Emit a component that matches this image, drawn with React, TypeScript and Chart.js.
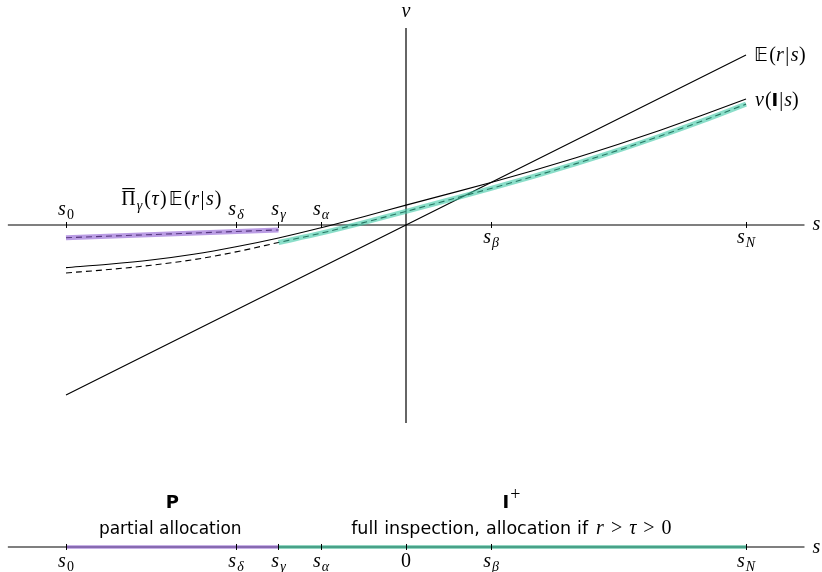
import React, { useEffect, useRef } from "react";
import { Chart, registerables } from "chart.js";
Chart.register(...registerables);

// ---- data -----------------------------------------------------------
// named signal positions (s axis)
const TICK_NAMES = ["0", "δ", "γ", "α", "β", "N"];
const TICK_S = [-1, -0.5, -0.375, -0.25, 0.25, 1];
const TICK_ABOVE = [true, true, true, true, false, false];
// bottom strip ticks (includes the origin "0")
const STRIP_NAMES = ["0", "δ", "γ", "α", "", "β", "N"];
const STRIP_S = [-1, -0.5, -0.375, -0.25, 0, 0.25, 1];

// curves sampled along s
const S_GRID = [-1, -0.875, -0.75, -0.625, -0.5, -0.375, -0.25, -0.125, 0, 0.125, 0.25, 0.375, 0.5, 0.625, 0.75, 0.875, 1];
const V_SOLID = [-0.251, -0.231, -0.206, -0.172, -0.128, -0.076, -0.016, 0.049, 0.117, 0.183, 0.25, 0.321, 0.396, 0.475, 0.559, 0.648, 0.741];
const V_DASHED = [-0.282, -0.262, -0.237, -0.204, -0.158, -0.103, -0.048, 0.014, 0.08, 0.147, 0.215, 0.286, 0.361, 0.44, 0.525, 0.615, 0.711];
const E_S = [-1, 1];
const E_V = [-1, 1];
const PI_S = [-1, -0.375];
const PI_V = [-0.075, -0.029];
const S_GAMMA = -0.375;

// axes extents / view
const AXIS_S = [-1.171, 1.172];
const AXIS_V = [-1.165, 1.159];
const STRIP_V = -1.894;
const VIEW_S = [-1.1941, 1.2235];
const VIEW_V = [-2.0412, 1.3235];

// ---- styling --------------------------------------------------------
const PURPLE = "rgba(140,90,210,0.6)";
const TEAL = "rgba(60,200,165,0.6)";
const PURPLE_STRIP = "rgba(140,95,205,0.65)";
const TEAL_STRIP = "rgba(50,175,140,0.7)";
const SERIF = "'Liberation Serif'";
const MI = `italic 20px ${SERIF}`;
const MR = `20px ${SERIF}`;
const SI = `italic 14px ${SERIF}`;
const SR = `14px ${SERIF}`;
const BB = "19px 'DejaVu Sans'";
const SANS = "17px 'DejaVu Sans'";
const SANS_R = "17.5px 'DejaVu Sans'";
const SANS_B = "bold 18px 'DejaVu Sans'";

type Seg = { t: string; f: string; dy?: number; over?: boolean; dx?: number; gap?: number };

function segWidth(ctx: CanvasRenderingContext2D, s: Seg) {
  ctx.font = s.f;
  const spaces = s.gap ? (s.t.match(/ /g) || []).length : 0;
  return ctx.measureText(s.t).width + (s.dx || 0) + spaces * (s.gap || 0);
}

function drawRich(ctx: CanvasRenderingContext2D, segs: Seg[], x: number, y: number, align: "left" | "center") {
  let w = 0;
  for (const s of segs) w += segWidth(ctx, s);
  let cx = align === "center" ? x - w / 2 : x;
  ctx.textAlign = "left";
  ctx.textBaseline = "alphabetic";
  for (const s of segs) {
    ctx.font = s.f;
    cx += s.dx || 0;
    const yy = y + (s.dy || 0);
    if (s.gap) {
      const words = s.t.split(" ");
      const sp = ctx.measureText(" ").width + s.gap;
      words.forEach((wd, i) => {
        ctx.fillText(wd, cx, yy);
        cx += ctx.measureText(wd).width;
        if (i < words.length - 1) cx += sp;
      });
    } else {
      ctx.fillText(s.t, cx, yy);
      const sw = ctx.measureText(s.t).width;
      if (s.over) ctx.fillRect(cx + 1, y - 17, sw - 2, 1.2);
      cx += sw;
    }
  }
}

function sLabel(name: string): Seg[] {
  if (name === "") return [{ t: "0", f: MR }];
  const sub = name === "0" ? SR : SI;
  return [{ t: "s", f: MI }, { t: name, f: sub, dy: 4, dx: 1 }];
}

const overlay = {
  id: "overlay",
  afterDatasetsDraw(chart: any) {
    const { ctx, scales } = chart;
    const px = (s: number) => scales.x.getPixelForValue(s);
    const py = (v: number) => scales.y.getPixelForValue(v);
    const y0 = py(0);
    const yb = py(STRIP_V);
    ctx.save();
    ctx.strokeStyle = "#000";
    ctx.fillStyle = "#000";
    ctx.lineWidth = 1;
    const tick = (X: number, Y: number) => {
      const xx = Math.round(X) + 0.5;
      ctx.beginPath();
      ctx.moveTo(xx, Y - 3);
      ctx.lineTo(xx, Y + 3);
      ctx.stroke();
    };
    TICK_S.forEach((s) => tick(px(s), y0));
    STRIP_S.forEach((s) => tick(px(s), yb));

    // tick labels on main axis
    TICK_S.forEach((s, i) => {
      const yy = TICK_ABOVE[i] ? y0 - 10 : y0 + 18;
      drawRich(ctx, sLabel(TICK_NAMES[i]), px(s), yy, "center");
    });
    STRIP_S.forEach((s, i) => {
      drawRich(ctx, sLabel(STRIP_NAMES[i]), px(s), yb + 20, "center");
    });

    // axis names
    drawRich(ctx, [{ t: "s", f: MI }], px(AXIS_S[1]) + 8, y0 + 5, "left");
    drawRich(ctx, [{ t: "s", f: MI }], px(AXIS_S[1]) + 8, yb + 6, "left");
    drawRich(ctx, [{ t: "v", f: MI }], px(0), py(AXIS_V[1]) - 11, "center");

    // curve labels
    drawRich(
      ctx,
      [{ t: "𝔼", f: BB }, { t: "(", f: MR, dx: 1.5 }, { t: "r", f: MI }, { t: "|", f: MR, dx: 1.5 }, { t: "s", f: MI, dx: 1.5 }, { t: ")", f: MR, dx: 0.5 }],
      px(E_S[1]) + 8,
      py(E_V[1]) + 6,
      "left"
    );
    drawRich(
      ctx,
      [{ t: "v", f: MI }, { t: "(", f: MR, dx: 1 }, { t: "I", f: "bold 18px 'DejaVu Sans'" }, { t: "|", f: MR, dx: 1 }, { t: "s", f: MI, dx: 1 }, { t: ")", f: MR }],
      px(S_GRID[S_GRID.length - 1]) + 9,
      py(V_SOLID[V_SOLID.length - 1]) + 7,
      "left"
    );
    drawRich(
      ctx,
      [
        { t: "Π", f: MR, over: true },
        { t: "γ", f: SI, dy: 5, dx: 1 },
        { t: "(", f: MR, dx: 2 },
        { t: "τ", f: MI, dx: 0.5 },
        { t: ")", f: MR, dx: 1.5 },
        { t: "𝔼", f: BB, dx: 2 },
        { t: "(", f: MR, dx: 1.5 },
        { t: "r", f: MI, dx: 0.5 },
        { t: "|", f: MR, dx: 1.5 },
        { t: "s", f: MI, dx: 1.5 },
        { t: ")", f: MR, dx: 1 },
      ],
      px(-0.69),
      y0 - 20,
      "center"
    );

    // strip annotations
    const cP = px((-1 + S_GAMMA) / 2);
    drawRich(ctx, [{ t: "P", f: SANS_B }], cP, yb - 39, "center");
    drawRich(ctx, [{ t: "partial allocation", f: SANS }], cP - 2, yb - 13, "center");
    const cI = px(0.31);
    drawRich(ctx, [{ t: "I", f: SANS_B }, { t: "+", f: "18px " + SERIF, dy: -8, dx: 1 }], cI, yb - 39, "center");
    drawRich(
      ctx,
      [
        { t: "full inspection, allocation if ", f: SANS_R, gap: 0.5 },
        { t: "r", f: MI, dx: 2 },
        { t: ">", f: MR, dx: 7 },
        { t: "τ", f: MI, dx: 7 },
        { t: ">", f: MR, dx: 7 },
        { t: "0", f: MR, dx: 7 },
      ],
      px(0.31),
      yb - 13,
      "center"
    );
    ctx.restore();
  },
};

const pts = (xs: number[], ys: number[]) => xs.map((x, i) => ({ x, y: ys[i] }));

export default function App() {
  const ref = useRef<HTMLCanvasElement | null>(null);
  useEffect(() => {
    if (!ref.current) return;
    const gi = S_GRID.findIndex((s) => s >= S_GAMMA);
    const base = { showLine: true, pointRadius: 0, borderWidth: 1.1, fill: false };
    const chart = new Chart(ref.current, {
      type: "scatter",
      data: {
        datasets: [
          // highlight bands (top)
          { ...base, data: pts(PI_S, PI_V), borderColor: PURPLE, borderWidth: 5, order: 0 },
          { ...base, data: pts(S_GRID.slice(gi), V_DASHED.slice(gi)), borderColor: TEAL, borderWidth: 5, cubicInterpolationMode: "monotone", order: 0 },
          { ...base, data: pts([-1, S_GAMMA], [STRIP_V, STRIP_V]), borderColor: PURPLE_STRIP, borderWidth: 3.5, order: 0 },
          { ...base, data: pts([S_GAMMA, 1], [STRIP_V, STRIP_V]), borderColor: TEAL_STRIP, borderWidth: 3.5, order: 0 },
          // dashed lines
          { ...base, data: pts(PI_S, PI_V), borderColor: "#000", borderDash: [6, 4], order: 1 },
          { ...base, data: pts(S_GRID, V_DASHED), borderColor: "#000", borderDash: [6, 4], cubicInterpolationMode: "monotone", order: 1 },
          // solid curves
          { ...base, data: pts(S_GRID, V_SOLID), borderColor: "#000", cubicInterpolationMode: "monotone", order: 2 },
          { ...base, data: pts(E_S, E_V), borderColor: "#000", order: 2 },
          // axes
          { ...base, data: pts(AXIS_S, [0, 0]), borderColor: "#000", borderWidth: 1.2, order: 3 },
          { ...base, data: pts([0, 0], AXIS_V), borderColor: "#000", borderWidth: 1.2, order: 3 },
          { ...base, data: pts(AXIS_S, [STRIP_V, STRIP_V]), borderColor: "#000", borderWidth: 1.2, order: 3 },
        ],
      } as any,
      options: {
        animation: false,
        responsive: false,
        devicePixelRatio: 1,
        layout: { padding: 0 },
        events: [],
        plugins: { legend: { display: false }, tooltip: { enabled: false } },
        scales: {
          x: { type: "linear", min: VIEW_S[0], max: VIEW_S[1], display: false },
          y: { type: "linear", min: VIEW_V[0], max: VIEW_V[1], display: false },
        },
      } as any,
      plugins: [overlay],
    });
    return () => chart.destroy();
  }, []);
  return (
    <div style={{ position: "fixed", left: 0, top: 0, width: 822, height: 572, background: "#fff" }}>
      <canvas ref={ref} width={822} height={572} style={{ display: "block" }} />
    </div>
  );
}
